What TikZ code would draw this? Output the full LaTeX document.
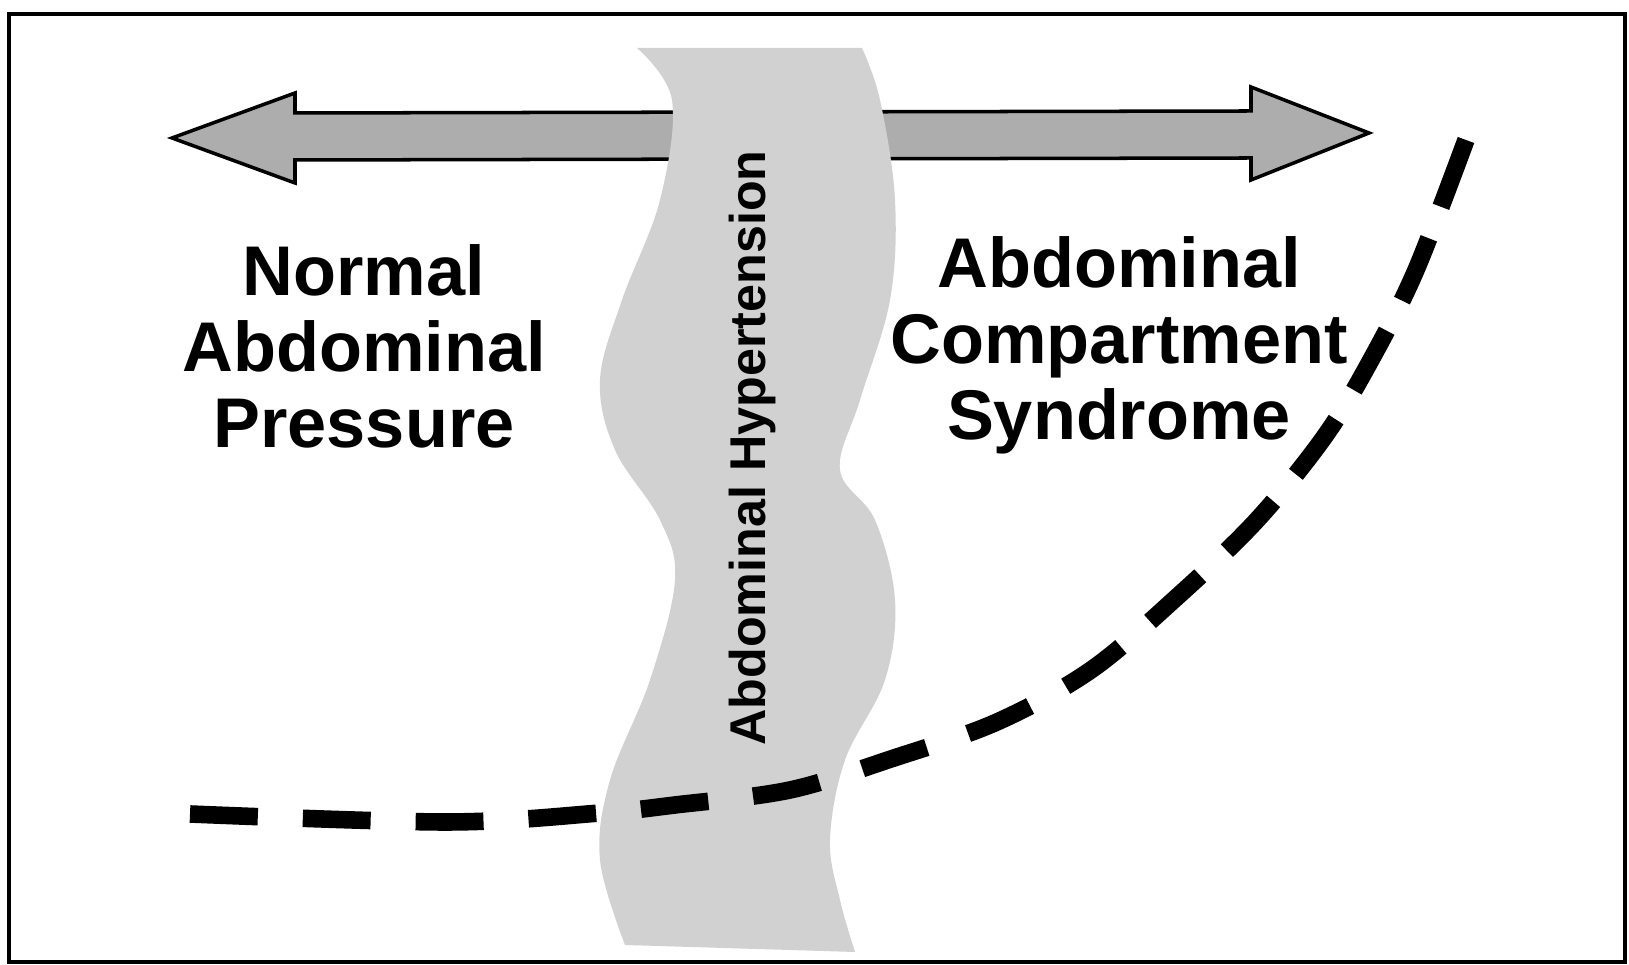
\documentclass[tikz,border=0pt]{standalone}
\usepackage{fontspec}
\setmainfont{Liberation Sans}
\begin{document}
\begin{tikzpicture}[x=0.01cm,y=-0.01cm,
  bigtext/.style={font=\fontsize{20}{21.6}\selectfont\bfseries, align=center, inner sep=0pt},
  vtext/.style={font=\fontsize{14.3}{16}\selectfont\bfseries, rotate=90, inner sep=0pt},
  band/.style={fill=black!18, draw=none},
  dblarrow/.style={fill=black!32, draw=black, line width=1pt, line join=miter},
  curve/.style={line width=5pt, dash pattern=on 19.3pt off 12.8pt on 19.3pt off 12.8pt on 19.3pt off 12.8pt on 19.3pt off 12.8pt on 19.3pt off 12.8pt on 19.3pt off 12.8pt on 19.3pt off 12.4pt on 19.3pt off 11.6pt on 19.3pt off 11pt on 19.3pt off 10.4pt on 19.3pt off 10pt on 19.3pt off 9.8pt on 19.3pt off 9.6pt on 19.3pt off 9.6pt on 22pt off 40pt}
]
\useasboundingbox (0,0) rectangle (1629,965);
\fill[white] (0,0) rectangle (1629,965);
% frame
\draw[line width=1pt] (9,14) rectangle (1625,962);
% double arrow
\draw[dblarrow] (172,138) -- (295,93) -- (295,113) -- (1251,111) -- (1251,87) -- (1369,133)
  -- (1251,180) -- (1251,158) -- (295,160) -- (295,183) -- cycle;
% wavy band
\path[band] plot[smooth, tension=0.6] coordinates {(637,48) (672,100) (660,200) (622,300) (600,380) (615,450) (660,520) (675,580) (650,680) (610,780) (600,860) (625,945)}
  -- plot[smooth, tension=0.6] coordinates {(855,952) (840,900) (830,840) (845,760) (885,680) (895,600) (875,520) (840,470) (860,400) (890,300) (895,200) (880,100) (862,48)} -- cycle;
% texts
\node[bigtext] (normal) at (364,346) {Normal\\Abdominal\\Pressure};
\node[bigtext] (acs) at (1119,345) {Abdominal\\Compartment\\Syndrome};
\node[vtext] (aht) at (752,448) {Abdominal Hypertension};
% dashed curve
\draw[curve] plot[smooth, tension=0.55] coordinates {(190,814) (447,822) (600,813) (675,805) (790,790) (894,758) (997,722) (1091,670) (1177,597) (1257,520) (1325,436) (1372,358) (1416,270) (1466,140)};
\end{tikzpicture}
\end{document}
